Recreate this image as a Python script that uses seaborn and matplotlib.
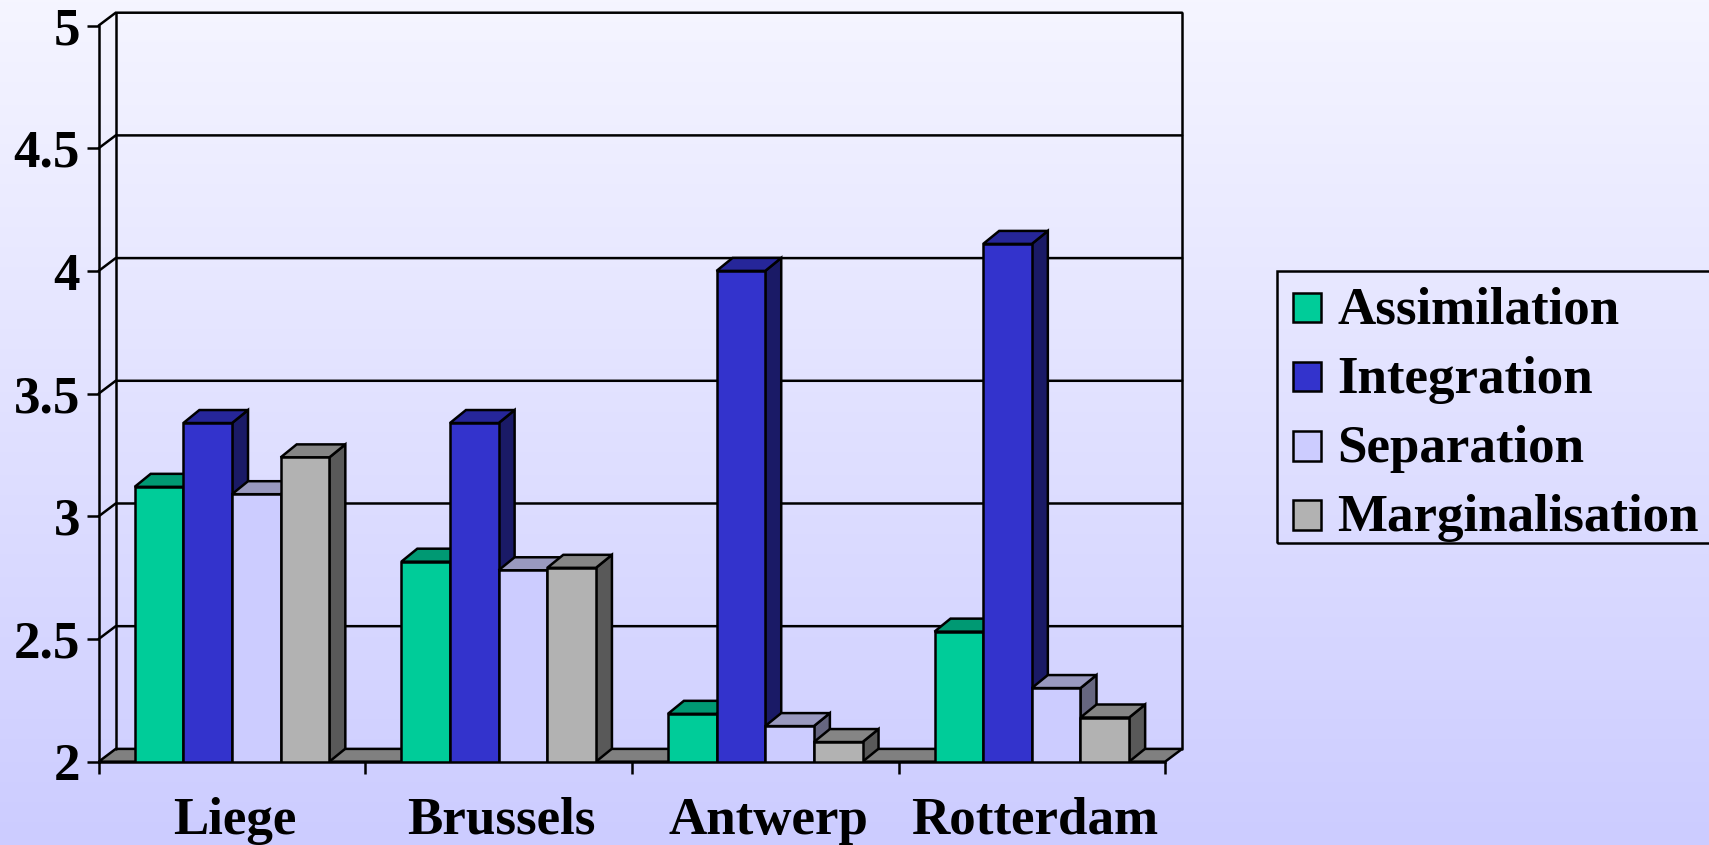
import numpy as np
import pandas as pd
import matplotlib
matplotlib.use('Agg')
import matplotlib.pyplot as plt
from matplotlib.colors import LinearSegmentedColormap
from matplotlib.patches import Polygon, Rectangle
from matplotlib.transforms import ScaledTranslation
import seaborn as sns

cities = ['Liege', 'Brussels', 'Antwerp', 'Rotterdam']
strategies = ['Assimilation', 'Integration', 'Separation', 'Marginalisation']
assimilation = [3.12, 2.815, 2.195, 2.53]
integration = [3.38, 3.38, 4.00, 4.11]
separation = [3.09, 2.78, 2.145, 2.30]
marginalisation = [3.24, 2.79, 2.08, 2.18]
y_ticks = [2, 2.5, 3, 3.5, 4, 4.5, 5]
y_tick_labels = ['2', '2.5', '3', '3.5', '4', '4.5', '5']

front_colors = ['#00CC99', '#3333CC', '#CCCCFF', '#B2B2B2']
top_colors = ['#009973', '#262699', '#9999BF', '#858585']
side_colors = ['#006650', '#1A1A66', '#666680', '#595959']

W, H = 1709, 845
LW = 1.8
FS = 38.2

df = pd.DataFrame({'city': cities * 4,
                   'strategy': np.repeat(strategies, 4),
                   'value': assimilation + integration + separation + marginalisation})

sns.set_theme(style='white')
plt.rcParams['font.family'] = ['Liberation Serif']
plt.rcParams['font.weight'] = 'bold'

fig = plt.figure(figsize=((W + 0.2) / 100, (H + 0.2) / 100), dpi=100)

#Background gradient
bg = fig.add_axes([0, 0, 1, 1], zorder=-1)
cmap = LinearSegmentedColormap.from_list('bg', ['#F5F5FF', '#CCCCFF'])
bg.imshow(np.linspace(0, 1, 256).reshape(-1, 1), cmap=cmap, aspect='auto')
bg.axis('off')

#Axes covers the front plane of the 3d box
left, right, bottom, top = 98.7, 1165, 761.7, 25.7
ax = fig.add_axes([left / W, 1 - bottom / H, (right - left) / W, (bottom - top) / H])
ax.patch.set_visible(False)

sns.barplot(data=df, x='city', y='value', hue='strategy', hue_order=strategies,
            palette=front_colors, width=0.73, saturation=1, edgecolor='black',
            linewidth=LW, errorbar=None, ax=ax)
ax.set_xlim(-0.5, 3.5)
ax.set_ylim(2, 5)

px_x = 4 / (right - left)
px_y = 3 / (bottom - top)
wall_dx, wall_dy = 17 * px_x, 12.8 * px_y
bar_dx, bar_dy = 16 * px_x, 13 * px_y

#Floor, back wall and gridlines
x0, x1 = -0.5, 3.5
ax.add_patch(Polygon([(x0, 2), (x0 + wall_dx, 2 + wall_dy), (x1 + wall_dx, 2 + wall_dy), (x1, 2)],
                     closed=True, facecolor='#808080', edgecolor='black', lw=LW, clip_on=False, zorder=1))
ax.plot([x0 + wall_dx, x0 + wall_dx], [2 + wall_dy, 5 + wall_dy], color='black', lw=LW, clip_on=False, zorder=1)
ax.plot([x1 + wall_dx, x1 + wall_dx], [2 + wall_dy, 5 + wall_dy], color='black', lw=LW, clip_on=False, zorder=1)
for v in y_ticks[1:]:
    ax.plot([x0, x0 + wall_dx, x1 + wall_dx], [v, v + wall_dy, v + wall_dy],
            color='black', lw=LW, clip_on=False, zorder=1, solid_joinstyle='miter')

#Extruded side and top of each bar, painted left to right
bars = []
for colour_i, container in enumerate(ax.containers):
    for patch in container:
        bars.append((patch.get_x(), colour_i, patch))
bars.sort(key=lambda b: b[0])

z = 2.0
for bx, colour_i, patch in bars:
    w = patch.get_width()
    h = patch.get_height()
    side = Polygon([(bx + w, 2), (bx + w + bar_dx, 2 + bar_dy), (bx + w + bar_dx, h + bar_dy), (bx + w, h)],
                   closed=True, facecolor=side_colors[colour_i], edgecolor='black', lw=LW, zorder=z)
    roof = Polygon([(bx, h), (bx + bar_dx, h + bar_dy), (bx + w + bar_dx, h + bar_dy), (bx + w, h)],
                   closed=True, facecolor=top_colors[colour_i], edgecolor='black', lw=LW, zorder=z + 0.01)
    ax.add_patch(side)
    ax.add_patch(roof)
    patch.set_zorder(z + 0.02)
    z += 0.1

#Axis lines and ticks
sns.despine(ax=ax, top=True, right=True)
for name in ['left', 'bottom']:
    ax.spines[name].set_color('black')
    ax.spines[name].set_linewidth(LW)
    ax.spines[name].set_zorder(50)

ax.set_xlabel('')
ax.set_ylabel('')
ax.set_yticks(y_ticks, labels=y_tick_labels)
ax.set_xticks([-0.5, 0.5, 1.5, 2.5, 3.5], labels=[])
ax.set_xticks(range(4), labels=cities, minor=True)
ax.tick_params(axis='y', which='major', left=True, length=8.5, width=LW, color='black',
               labelsize=FS, labelcolor='black', pad=5)
ax.tick_params(axis='x', which='major', bottom=True, length=8.5, width=LW, color='black')
ax.tick_params(axis='x', which='minor', bottom=False, length=0, labelsize=FS, labelcolor='black', pad=25)
for lab in ax.get_xticklabels(minor=True):
    lab.set_transform(lab.get_transform() + ScaledTranslation(0.03, 0, fig.dpi_scale_trans))

#Legend frame is drawn by hand, it runs off the right edge of the figure
leg = ax.legend(loc='upper left', bbox_to_anchor=(1277.3 / W, 1 - 270.7 / H), bbox_transform=fig.transFigure,
                borderaxespad=0, borderpad=0.3, fontsize=FS, frameon=False,
                handlelength=0.52, handleheight=0.48, handletextpad=0.31, labelspacing=0.4,
                labelcolor='black', title=None)
for handle in leg.get_patches():
    handle.set_y(handle.get_y() - 2)
fig.add_artist(Rectangle((1277.3 / W, 1 - 543.3 / H), 500 / W, 272.6 / H, transform=fig.transFigure,
                         fill=False, edgecolor='black', lw=LW, clip_on=True))

fig.savefig('out.png', dpi=100)
